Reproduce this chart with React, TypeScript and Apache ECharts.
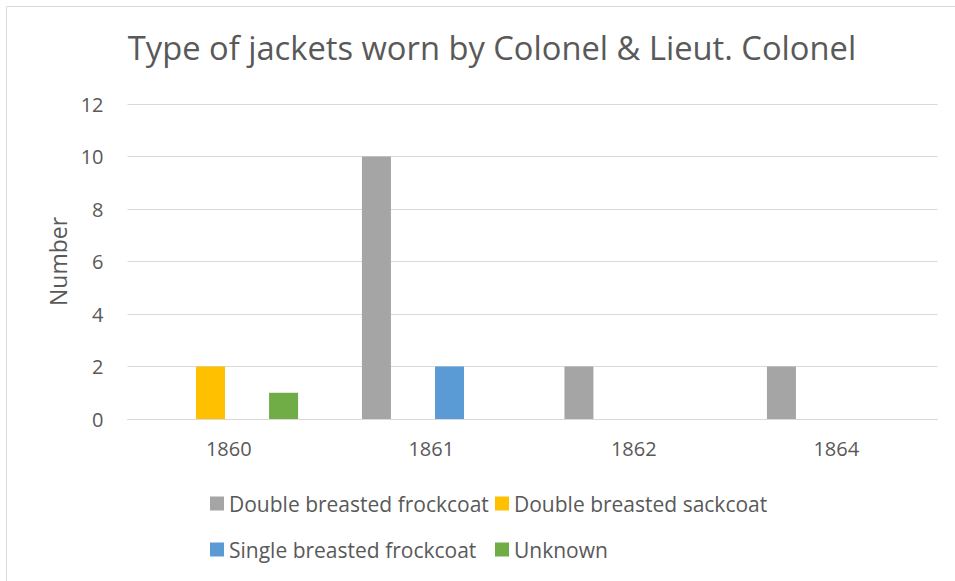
import React, { useEffect, useRef } from "react";
import * as echarts from "echarts";

const categories = ["1860", "1861", "1862", "1864"];
const seriesNames = [
  "Double breasted frockcoat",
  "Double breasted sackcoat",
  "Single breasted frockcoat",
  "Unknown",
];
const doubleFrockcoat = [0, 10, 2, 2];
const doubleSackcoat = [2, 0, 0, 0];
const singleFrockcoat = [0, 2, 0, 0];
const unknown = [1, 0, 0, 0];
const colors = ["#A5A5A5", "#FFC000", "#5B9BD5", "#70AD47"];

const FONT = "'Open Sans', sans-serif";
const TEXT = "#595959";

export default function App() {
  const ref = useRef<HTMLDivElement>(null);
  useEffect(() => {
    if (!ref.current) return;
    const chart = echarts.init(ref.current, null, { renderer: "svg" });
    const values = [doubleFrockcoat, doubleSackcoat, singleFrockcoat, unknown];
    const legendText = { color: TEXT, fontSize: 21, fontFamily: FONT, lineHeight: 20 };
    chart.setOption({
      animation: false,
      backgroundColor: "#ffffff",
      title: {
        text: "Type of jackets worn by Colonel & Lieut. Colonel",
        left: 487,
        textAlign: "center",
        top: 26,
        textStyle: { color: TEXT, fontSize: 32.7, fontWeight: "normal", fontFamily: FONT },
      },
      graphic: [
        {
          type: "rect",
          shape: { x: 6.5, y: 6.5, width: 1000, height: 1000 },
          style: { fill: "none", stroke: "#D9D9D9", lineWidth: 1 },
          silent: true,
        },
      ],
      legend: [
        {
          data: [seriesNames[0], seriesNames[2]],
          orient: "vertical",
          left: 205,
          top: 488,
          itemWidth: 14,
          itemHeight: 14,
          itemGap: 25,
          icon: "rect",
          textStyle: legendText,
          selectedMode: false,
        },
        {
          data: [seriesNames[1], seriesNames[3]],
          orient: "vertical",
          left: 490,
          top: 488,
          itemWidth: 14,
          itemHeight: 14,
          itemGap: 25,
          icon: "rect",
          textStyle: legendText,
          selectedMode: false,
        },
      ],
      grid: { left: 127.5, right: 17.5, top: 104, bottom: 162, containLabel: false },
      xAxis: {
        type: "category",
        data: categories,
        axisLine: { show: true, lineStyle: { color: "#D9D9D9", width: 1 } },
        axisTick: { show: false },
        axisLabel: { color: TEXT, fontSize: 20, fontFamily: FONT, margin: 19 },
      },
      yAxis: {
        type: "value",
        min: 0,
        max: 12,
        interval: 2,
        name: "Number",
        nameLocation: "middle",
        nameGap: 58,
        nameTextStyle: { color: TEXT, fontSize: 23, fontFamily: FONT },
        axisLine: { show: false },
        axisTick: { show: false },
        splitLine: { lineStyle: { color: "#D9D9D9", width: 1 } },
        axisLabel: { color: TEXT, fontSize: 20, fontFamily: FONT, margin: 24 },
      },
      series: seriesNames.map((name, i) => ({
        name,
        type: "bar",
        data: values[i],
        barWidth: 29,
        barGap: "26%",
        itemStyle: { color: colors[i] },
      })),
    });
    return () => chart.dispose();
  }, []);
  return (
    <div
      ref={ref}
      style={{ position: "fixed", left: 0, top: 0, width: 955, height: 581 }}
    />
  );
}
